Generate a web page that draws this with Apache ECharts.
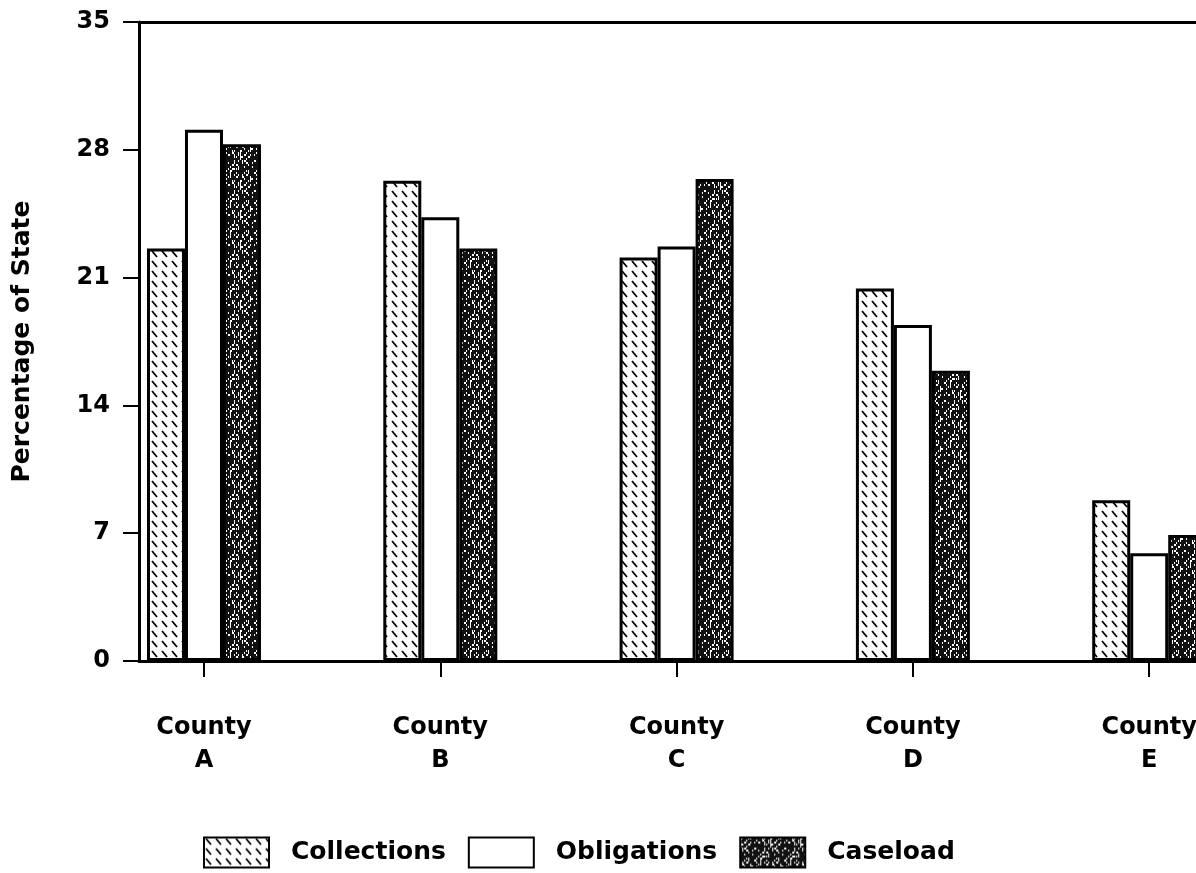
<style>
  body,
  html {
    overflow: hidden;
    width: 100%;
    height: 100%;
    margin: 0;
    padding: 0;
    background: #fff;
  }
  .chart-wrapper {
    position: relative;
    width: 100%;
    height: 100%;
  }
</style>

<div id="chart-wrapper" class="chart-wrapper"></div>

<script src="https://cdn.jsdelivr.net/npm/echarts@6/dist/echarts.min.js"></script>

<script>
  // data
  const counties = ["A", "B", "C", "D", "E"];
  const collections = [22.6, 26.3, 22.1, 20.4, 8.8];
  const obligations = [29.1, 24.3, 22.7, 18.4, 5.9];
  const caseload = [28.3, 22.6, 26.4, 15.9, 6.9];
  const yTicks = [0, 7, 14, 21, 28, 35];

  const font = "DejaVu Sans";

  // diagonal short dashes, like the hatching in the print
  const makeHatch = () => {
    const c = document.createElement("canvas");
    c.width = 10;
    c.height = 10;
    const ctx = c.getContext("2d");
    ctx.fillStyle = "#fff";
    ctx.fillRect(0, 0, 10, 10);
    ctx.strokeStyle = "#000";
    ctx.lineWidth = 1.8;
    ctx.beginPath();
    ctx.moveTo(2, 1);
    ctx.lineTo(7, 7);
    ctx.stroke();
    return c;
  };

  // dark speckled fill
  const makeStipple = () => {
    const n = 30;
    const c = document.createElement("canvas");
    c.width = n;
    c.height = n;
    const ctx = c.getContext("2d");
    ctx.fillStyle = "#111";
    ctx.fillRect(0, 0, n, n);
    ctx.fillStyle = "#fff";
    for (let y = 0; y < n; y += 2) {
      for (let x = 0; x < n; x += 2) {
        const h = (x * 7 + y * 11 + ((x * y) % 13) * 3 + ((x + 3) * (y + 5)) % 7) % 10;
        if (h < 3) ctx.fillRect(x, y, 1 + (h % 2), 2);
      }
    }
    return c;
  };

  const hatch = { image: makeHatch(), repeat: "repeat" };
  const stipple = { image: makeStipple(), repeat: "repeat" };

  const chartDom = document.getElementById("chart-wrapper");
  const chart = echarts.init(chartDom);

  const barSeries = (name, values, fill) => ({
    name: name,
    type: "bar",
    barWidth: 38,
    barGap: "0%",
    clip: true,
    data: values.map((v, i) => [i, v]),
    itemStyle: {
      color: fill,
      borderColor: "#000",
      borderWidth: 3,
    },
  });

  const option = {
    animation: false,
    backgroundColor: "#fff",
    grid: {
      left: 139,
      right: 0,
      top: 22,
      bottom: 212,
      outerBoundsMode: "none",
      containLabel: false,
    },
    xAxis: [
      {
        type: "value",
        min: -0.275,
        max: 4.198,
        splitLine: { show: false },
        axisLine: { onZero: false, lineStyle: { color: "#000", width: 3 } },
        axisTick: {
          customValues: [0, 1, 2, 3, 4],
          length: 16,
          lineStyle: { color: "#000", width: 2 },
        },
        axisLabel: {
          customValues: [0, 1, 2, 3, 4],
          margin: 50,
          color: "#000",
          fontFamily: font,
          fontWeight: "bold",
          fontSize: 24,
          lineHeight: 33,
          align: "center",
          formatter: (v) => "County\n" + counties[Math.round(v)],
        },
      },
      {
        type: "value",
        position: "top",
        min: -0.275,
        max: 4.198,
        splitLine: { show: false },
        axisLine: { onZero: false, lineStyle: { color: "#000", width: 3 } },
        axisTick: { show: false },
        axisLabel: { show: false },
      },
    ],
    yAxis: {
      type: "value",
      min: 0,
      max: 35,
      interval: 7,
      name: "Percentage of State",
      nameLocation: "middle",
      nameGap: 90,
      nameTextStyle: {
        color: "#000",
        fontFamily: font,
        fontWeight: "bold",
        fontSize: 25,
      },
      splitLine: { show: false },
      axisLine: {
        show: true,
        onZero: false,
        lineStyle: { color: "#000", width: 3 },
      },
      axisTick: {
        show: true,
        length: 16,
        lineStyle: { color: "#000", width: 2 },
      },
      axisLabel: {
        margin: 29,
        color: "#000",
        fontFamily: font,
        fontWeight: "bold",
        fontSize: 24,
        customValues: yTicks,
      },
    },
    legend: {
      left: 198,
      top: 821,
      itemWidth: 65,
      itemHeight: 30,
      itemGap: 22,
      icon: "rect",
      itemStyle: { borderColor: "#000", borderWidth: 2 },
      textStyle: {
        color: "#000",
        fontFamily: font,
        fontWeight: "bold",
        fontSize: 25,
        padding: [0, 0, 0, 17],
      },
      data: ["Collections", "Obligations", "Caseload"],
    },
    series: [
      barSeries("Collections", collections, hatch),
      barSeries("Obligations", obligations, "#fff"),
      barSeries("Caseload", caseload, stipple),
    ],
  };

  chart.setOption(option);
</script>
